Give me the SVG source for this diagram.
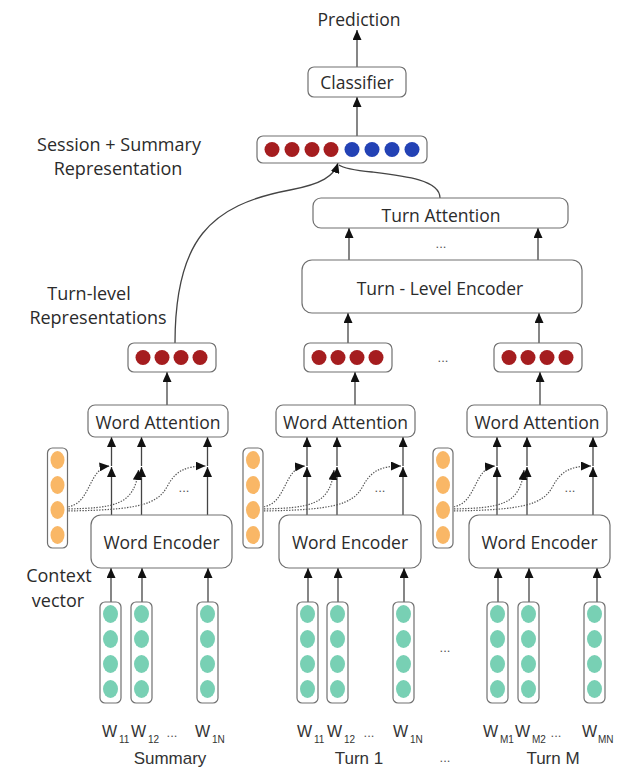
<svg xmlns="http://www.w3.org/2000/svg" width="623" height="769" viewBox="0 0 623 769">
  <defs>
    <style>
      .box{fill:#fff;stroke:#707070;stroke-width:1.2}
      .lbl{font-family:"Open Sans","DejaVu Sans",sans-serif;font-size:17.5px;fill:#2b2b2b;text-anchor:middle}
      .side{font-family:"Open Sans","DejaVu Sans",sans-serif;font-size:18px;fill:#2b2b2b;text-anchor:middle}
      .cap{font-family:"Liberation Sans",Arial,sans-serif;font-size:17px;fill:#333;text-anchor:middle}
      .w{font-family:"Liberation Sans",Arial,sans-serif;font-size:16px;fill:#333}
      .sub{font-family:"Liberation Sans",Arial,sans-serif;font-size:10px;fill:#333}
      .ell{font-family:"Liberation Sans",Arial,sans-serif;font-size:13px;fill:#555;text-anchor:middle}
      .edge{stroke:#444;stroke-width:1.3;fill:none}
      .dot{stroke:#555;stroke-width:1.2;stroke-dasharray:1.4 1.4;fill:none}
      .red{fill:#a51d1f}
      .blue{fill:#2342b5}
      .teal{fill:#78d0b4}
      .orange{fill:#f9b766}
    </style>
    <marker id="arrow" markerUnits="userSpaceOnUse" markerWidth="10" markerHeight="9" refX="10" refY="4.5" orient="auto">
      <path d="M0,0 L10,4.5 L0,9 z" fill="#111"/>
    </marker>
    <!-- word vector: four cells in a rounded column -->
    <g id="wordvec">
      <rect class="box" x="0" y="0" width="21" height="101" rx="5"/>
      <ellipse class="teal" cx="10.5" cy="12" rx="7.5" ry="9"/>
      <ellipse class="teal" cx="10.5" cy="37" rx="7.5" ry="9"/>
      <ellipse class="teal" cx="10.5" cy="62" rx="7.5" ry="9"/>
      <ellipse class="teal" cx="10.5" cy="87" rx="7.5" ry="9"/>
    </g>
    <!-- context vector -->
    <g id="ctxvec">
      <rect class="box" x="-10" y="448" width="20" height="100" rx="5"/>
      <ellipse class="orange" cx="0" cy="460" rx="7" ry="9"/>
      <ellipse class="orange" cx="0" cy="485" rx="7" ry="9"/>
      <ellipse class="orange" cx="0" cy="510" rx="7" ry="9"/>
      <ellipse class="orange" cx="0" cy="535" rx="7" ry="9"/>
    </g>
    <!-- turn-level representation -->
    <g id="redvec">
      <rect class="box" x="0" y="0" width="88" height="29" rx="6"/>
      <circle class="red" cx="15" cy="14.5" r="7.5"/>
      <circle class="red" cx="34" cy="14.5" r="7.5"/>
      <circle class="red" cx="53" cy="14.5" r="7.5"/>
      <circle class="red" cx="72" cy="14.5" r="7.5"/>
    </g>
    <!-- attention inputs of one column: encoder states plus context links -->
    <g id="wordlinks">
      <path class="edge" d="M54,515 L54,467" marker-end="url(#arrow)"/>
      <path class="edge" d="M54,466 L54,437" marker-end="url(#arrow)"/>
      <path class="edge" d="M84,515 L84,467" marker-end="url(#arrow)"/>
      <path class="edge" d="M84,466 L84,437" marker-end="url(#arrow)"/>
      <path class="edge" d="M150,515 L150,467" marker-end="url(#arrow)"/>
      <path class="edge" d="M150,466 L150,437" marker-end="url(#arrow)"/>
      <path class="dot" d="M8,507 C34,506 30,468 52,466" marker-end="url(#arrow)"/>
      <path class="dot" d="M8,509 C56,508 77,506 81,470" marker-end="url(#arrow)"/>
      <path class="dot" d="M8,511 C80,510 100,505 110,486 C118,471 128,466 148,466" marker-end="url(#arrow)"/>
    </g>
  </defs>

  <!-- connectors -->
  <g id="connectors">
    <path class="edge" d="M357,67 L357,30" marker-end="url(#arrow)"/>
    <path class="edge" d="M357,136 L357,97" marker-end="url(#arrow)"/>
    <path class="edge" d="M175,343 C175,240 210,205 290,190 C322,184 334,176 338,163" marker-end="url(#arrow)"/>
    <path class="edge" d="M440,198 C440,180 405,176 372,172 C352,170 343,168 339,165"/>
    <path class="edge" d="M349,260 L349,228" marker-end="url(#arrow)"/>
    <path class="edge" d="M538,260 L538,228" marker-end="url(#arrow)"/>
    <path class="edge" d="M348,343 L348,313" marker-end="url(#arrow)"/>
    <path class="edge" d="M539,343 L539,313" marker-end="url(#arrow)"/>
    <path class="edge" d="M167,405 L167,372" marker-end="url(#arrow)"/>
    <path class="edge" d="M355,405 L355,372" marker-end="url(#arrow)"/>
    <path class="edge" d="M540,405 L540,372" marker-end="url(#arrow)"/>
    <use href="#wordlinks" transform="translate(57.5,0)"/>
    <use href="#wordlinks" transform="translate(253,0)"/>
    <use href="#wordlinks" transform="translate(443,0)"/>
    <path class="edge" d="M111,602 L111,568" marker-end="url(#arrow)"/>
    <path class="edge" d="M142,602 L142,568" marker-end="url(#arrow)"/>
    <path class="edge" d="M208,602 L208,568" marker-end="url(#arrow)"/>
    <path class="edge" d="M308,602 L308,568" marker-end="url(#arrow)"/>
    <path class="edge" d="M338,602 L338,568" marker-end="url(#arrow)"/>
    <path class="edge" d="M404,602 L404,568" marker-end="url(#arrow)"/>
    <path class="edge" d="M498,602 L498,568" marker-end="url(#arrow)"/>
    <path class="edge" d="M529,602 L529,568" marker-end="url(#arrow)"/>
    <path class="edge" d="M597,602 L597,568" marker-end="url(#arrow)"/>
  </g>

  <g id="prediction">
    <text class="lbl" x="359" y="26">Prediction</text>
  </g>
  <g id="classifier">
    <rect class="box" x="308" y="67" width="98" height="30" rx="6"/>
    <text class="lbl" x="357" y="89">Classifier</text>
  </g>
  <g id="session-summary-vector">
    <rect class="box" x="257" y="136" width="170" height="27" rx="6"/>
    <circle class="red" cx="272" cy="149.5" r="7.5"/>
    <circle class="red" cx="292" cy="149.5" r="7.5"/>
    <circle class="red" cx="312" cy="149.5" r="7.5"/>
    <circle class="red" cx="331" cy="149.5" r="7.5"/>
    <circle class="blue" cx="352" cy="149.5" r="7.5"/>
    <circle class="blue" cx="372" cy="149.5" r="7.5"/>
    <circle class="blue" cx="392" cy="149.5" r="7.5"/>
    <circle class="blue" cx="412" cy="149.5" r="7.5"/>
  </g>
  <g id="turn-attention">
    <rect class="box" x="313" y="198" width="255" height="30" rx="8"/>
    <text class="lbl" x="441" y="222">Turn Attention</text>
  </g>
  <text class="ell" x="441" y="248">...</text>
  <g id="turn-level-encoder">
    <rect class="box" x="302" y="260" width="280" height="53" rx="10"/>
    <text class="lbl" x="440" y="295">Turn - Level Encoder</text>
  </g>

  <!-- turn-level representations -->
  <g id="summary-rep"><use href="#redvec" transform="translate(128,343)"/></g>
  <g id="turn1-rep"><use href="#redvec" transform="translate(304,343)"/></g>
  <text class="ell" x="443" y="362">...</text>
  <g id="turnM-rep"><use href="#redvec" transform="translate(494,343)"/></g>

  <!-- word attention -->
  <g id="summary-word-attention">
    <rect class="box" x="88" y="405" width="140" height="32" rx="7"/>
    <text class="lbl" x="158" y="429">Word Attention</text>
  </g>
  <g id="turn1-word-attention">
    <rect class="box" x="276" y="405" width="139" height="32" rx="7"/>
    <text class="lbl" x="345.5" y="429">Word Attention</text>
  </g>
  <g id="turnM-word-attention">
    <rect class="box" x="467" y="405" width="140" height="32" rx="7"/>
    <text class="lbl" x="537" y="429">Word Attention</text>
  </g>

  <!-- context vectors -->
  <g id="summary-context"><use href="#ctxvec" transform="translate(57.5,0)"/></g>
  <g id="turn1-context"><use href="#ctxvec" transform="translate(253,0)"/></g>
  <g id="turnM-context"><use href="#ctxvec" transform="translate(443,0)"/></g>
  <text class="ell" x="184" y="492">...</text>
  <text class="ell" x="380" y="492">...</text>
  <text class="ell" x="570" y="492">...</text>

  <!-- word encoders -->
  <g id="summary-word-encoder">
    <rect class="box" x="91" y="515" width="141" height="53" rx="10"/>
    <text class="lbl" x="161.5" y="549">Word Encoder</text>
  </g>
  <g id="turn1-word-encoder">
    <rect class="box" x="279" y="515" width="142" height="53" rx="10"/>
    <text class="lbl" x="350" y="549">Word Encoder</text>
  </g>
  <g id="turnM-word-encoder">
    <rect class="box" x="469" y="515" width="141" height="53" rx="10"/>
    <text class="lbl" x="539.5" y="549">Word Encoder</text>
  </g>

  <!-- word vectors -->
  <g id="summary-words">
    <use href="#wordvec" x="100" y="602"/>
    <use href="#wordvec" x="131" y="602"/>
    <use href="#wordvec" x="197" y="602"/>
  </g>
  <g id="turn1-words">
    <use href="#wordvec" x="297" y="602"/>
    <use href="#wordvec" x="327" y="602"/>
    <use href="#wordvec" x="393" y="602"/>
  </g>
  <text class="ell" x="445" y="652">...</text>
  <g id="turnM-words">
    <use href="#wordvec" x="487" y="602"/>
    <use href="#wordvec" x="518" y="602"/>
    <use href="#wordvec" x="584" y="602"/>
  </g>

  <!-- word labels -->
  <g id="word-labels">
    <text class="w" x="102" y="737">W</text><text class="sub" x="119" y="743">11</text>
    <text class="w" x="131" y="737">W</text><text class="sub" x="148" y="743">12</text>
    <text class="ell" x="172" y="737">...</text>
    <text class="w" x="195" y="737">W</text><text class="sub" x="212" y="743">1N</text>

    <text class="w" x="297" y="737">W</text><text class="sub" x="314" y="743">11</text>
    <text class="w" x="327" y="737">W</text><text class="sub" x="344" y="743">12</text>
    <text class="ell" x="369" y="737">...</text>
    <text class="w" x="393" y="737">W</text><text class="sub" x="410" y="743">1N</text>

    <text class="w" x="483" y="737">W</text><text class="sub" x="500" y="743">M1</text>
    <text class="w" x="515" y="737">W</text><text class="sub" x="532" y="743">M2</text>
    <text class="ell" x="556" y="737">...</text>
    <text class="w" x="582" y="737">W</text><text class="sub" x="598" y="743">MN</text>
  </g>
  <g id="column-captions">
    <text class="cap" x="170" y="764">Summary</text>
    <text class="cap" x="359" y="764">Turn 1</text>
    <text class="ell" x="445" y="762">...</text>
    <text class="cap" x="553" y="764">Turn M</text>
  </g>

  <!-- side labels -->
  <g id="side-labels">
    <text class="side" x="119" y="151">Session + Summary</text>
    <text class="side" x="118" y="175">Representation</text>
    <text class="side" x="89" y="300">Turn-level</text>
    <text class="side" x="98" y="324">Representations</text>
    <text class="side" x="59" y="582">Context</text>
    <text class="side" x="58" y="607">vector</text>
  </g>
</svg>
